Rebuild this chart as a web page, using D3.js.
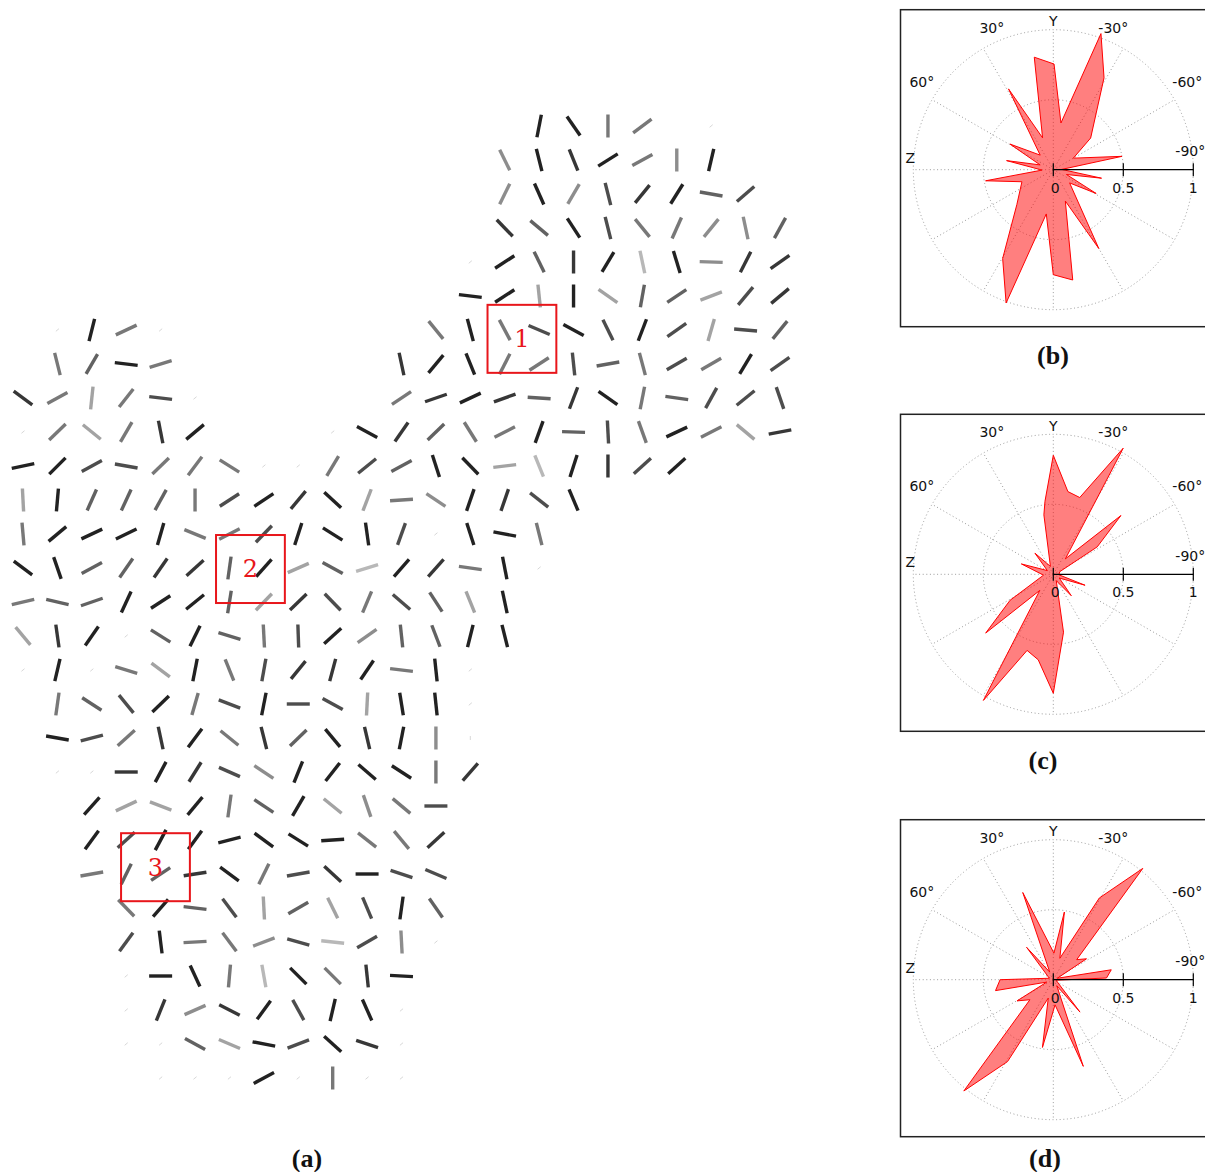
<!DOCTYPE html>
<html>
<head>
<meta charset="utf-8">
<script src="https://cdn.jsdelivr.net/npm/d3@7"></script>
<style>
  body { margin: 0; background: #fff; }
</style>
</head>
<body>
<div id="chart"></div>
<script>
// (a) orientation field: one string per grid row, one char per column.
// '.' = empty cell, '0' = faint stub, '2'..'9' = grey level (2 darkest).
const shadeRows = [
  "...............2266.0..",
  "..............7232672..",
  "..............72743254.",
  "..............352466775",
  ".............0253292733",
  ".............2282855843",
  ".0260.......62642424845",
  ".6526......322664564624",
  "368640.....632353265444",
  "068632...02356625462683",
  "22446660064522892342...",
  "82555642328672342......",
  "6222266422240226.......",
  "2255335285923620.......",
  "655222583464582........",
  "832052564275522........",
  "02068264332620.........",
  ".6542642448220.........",
  ".2463263523270.........",
  ".0032347222263.........",
  "..28826528764..........",
  "..24222222663..........",
  "..65532643244..........",
  "...6254858425..........",
  "...4266749470..........",
  "...022692632...........",
  "...037324220...........",
  "...005824230...........",
  "....00020600..........."
];

// in-plane angle (degrees from horizontal, counter-clockwise) of each non-empty cell, in row order
const angleRows = [
  [79, -55, 90, 37, 40],
  [-64, -76, -68, 32, 29, 90, 77],
  [64, -66, 60, -76, 51, 58, -10, 41],
  [-46, -40, -57, -76, -51, 66, 51, -78, 61],
  [40, 33, -64, 90, 59, -78, -73, -2, 63, 35],
  [-7, 33, -84, 90, -35, 80, 34, 21, 50, 40],
  [40, 76, 25, 40, -51, -75, -62, -23, -28, -64, 69, 35, 74, -5, 51],
  [-76, 60, -7, 17, -78, 50, -68, 63, 33, -84, 10, -75, 30, 30, 59, 35],
  [-36, 29, 84, 52, -7, 40, 34, 19, 25, 20, -4, 69, -35, 79, -8, 61, 39, -71],
  [40, 44, -39, 60, -79, 40, 40, -28, 55, 44, -58, 27, 70, -2, -87, -70, 25, 27, -40, 11],
  [12, 45, 29, -10, 44, 53, -32, 40, 40, 59, 39, 28, -72, -46, 7, -68, 72, 90, 42, 42],
  [-87, 85, 66, 65, 61, 90, 33, 34, 50, -43, 69, 4, -34, 71, 71, -38, -67],
  [-85, 40, 25, 26, 74, -22, 27, 46, 72, -32, -82, 70, 40, -72, -11, -76],
  [-37, -71, 28, 55, 55, 42, 82, 48, 24, -29, 17, 49, 48, -8, -79, 40],
  [13, -13, 19, 65, 33, 39, 81, 46, 44, -46, 67, -41, -57, -68, -78],
  [-50, -82, 55, 40, -32, 64, -17, -87, -88, 42, 35, -84, -69, 76, -76],
  [40, 77, 40, -17, -37, 79, -68, 80, 51, 75, 56, -7, -84, 40],
  [82, -33, -51, 44, 74, -21, 79, 0, -29, 87, -81, -84, 40],
  [-10, 15, 42, -78, 53, -39, -76, 44, -50, -77, 79, 90, 90],
  [40, 40, 0, 62, 58, -24, -34, 68, 52, -41, -33, 90, 49],
  [48, 25, -21, 50, 82, -34, 60, -39, -71, -40, 0],
  [54, 42, 62, 54, 14, -36, -32, 4, -38, -50, 43],
  [10, 64, 34, 9, -36, 64, 10, -43, 0, -18, -23],
  [-46, 49, -7, -53, -87, 30, -64, -67, 82, -55],
  [54, -83, 3, -53, 21, -16, -6, 30, -87, 40],
  [40, 0, -65, 85, -80, -45, -45, -84, -3],
  [40, 68, 24, -27, 54, -61, 77, -66, 40],
  [40, 40, -29, -23, -11, 21, -42, -18, 40],
  [40, 40, 40, 28, 40, 90, 40, 40]
];

// highlighted regions (grid units: left column, top row)
const regionLabels = ["1", "2", "3"];
const regionCols = [13.5, 5.61, 2.85];
const regionRows = [5.26, 12.03, 20.8];

// rose plots: [angle in degrees counter-clockwise from Y, normalised length]
const roseB = [[9.6, 0.815], [-0.4, 0.755], [-9.3, 0.338], [-19.3, 1.03], [-28.9, 0.75], [-49.7, 0.35],
  [-60, 0.165], [-79, 0.5], [-88, 0.06], [-100, 0.35], [-110, 0.1], [-119, 0.35], [-129, 0.15],
  [-150, 0.65], [-159, 0.24], [-170, 0.8], [180, 0.75], [171, 0.32], [160.5, 1.01], [150.3, 0.73],
  [133.7, 0.36], [111, 0.24], [99.3, 0.49], [92, 0.08], [79, 0.34], [70, 0.1], [59.4, 0.36],
  [42, 0.14], [29, 0.66], [18.6, 0.24]];
const roseC = [[0, 0.85], [-10, 0.6], [-19, 0.58], [-29, 1.03], [-38, 0.14], [-49, 0.64], [-58, 0.37],
  [-68, 0.05], [-95, 0.04], [-109, 0.24], [-122, 0.05], [-140, 0.2], [-155, 0.05], [-170, 0.42],
  [-180, 0.85], [170, 0.62], [161, 0.575], [151, 1.03], [140, 0.15], [131, 0.64], [121, 0.36],
  [95, 0.07], [72, 0.24], [58, 0.05], [41, 0.2], [20, 0.06], [9, 0.43], [6.5, 0.525]];
const roseD = [[19.3, 0.66], [-1.4, 0.19], [-9.3, 0.49], [-17, 0.16], [-29.4, 0.67], [-38.8, 1.02],
  [-49.4, 0.22], [-57.8, 0.28], [-70, 0.03], [-80.3, 0.42], [-88.2, 0.38], [-100, 0.02],
  [-140.5, 0.3], [-150, 0.05], [-160.9, 0.655], [-176, 0.18], [170.9, 0.49], [164.7, 0.136],
  [150.8, 0.67], [141.2, 1.02], [130.6, 0.22], [120.3, 0.3], [110, 0.05], [100.7, 0.42],
  [90, 0.38], [70, 0.03], [39.5, 0.3], [25, 0.06]];

const radialTicks = [0, 0.5, 1];
const dirLabels = ["Y", "30\u00b0", "-30\u00b0", "60\u00b0", "-60\u00b0", "Z", "-90\u00b0"];
const captions = ["(a)", "(b)", "(c)", "(d)"];

const width = 1205, height = 1172;
const svg = d3.select("#chart").append("svg")
  .attr("width", width)
  .attr("height", height)
  .style("display", "block");

svg.append("rect").attr("width", width).attr("height", height).attr("fill", "#fff");

// ---------- (a) orientation field ----------
const x = d3.scaleLinear().domain([0, 22]).range([23, 780]);
const y = d3.scaleLinear().domain([0, 28]).range([126, 1078]);
const grey = d3.scaleLinear().domain([2, 9]).range(["#222", "#b8b8b8"]);

const cells = [];
shadeRows.forEach((row, r) => {
  let k = 0;
  [...row].forEach((ch, c) => {
    if (ch === ".") return;
    cells.push({ row: r, col: c, shade: +ch, angle: angleRows[r][k++] });
  });
});

const segLen = 23;
svg.append("g").attr("class", "field")
  .selectAll("line")
  .data(cells)
  .join("line")
  .each(function (d) {
    const half = (d.shade === 0 ? 2 : segLen / 2);
    const a = d.angle * Math.PI / 180;
    const dx = Math.cos(a) * half, dy = -Math.sin(a) * half;
    d3.select(this)
      .attr("x1", x(d.col) - dx).attr("y1", y(d.row) - dy)
      .attr("x2", x(d.col) + dx).attr("y2", y(d.row) + dy);
  })
  .attr("stroke", d => d.shade === 0 ? "#d8d8d8" : grey(d.shade))
  .attr("stroke-width", d => d.shade === 0 ? 1 : 3.4)
  .attr("stroke-linecap", "butt");

// highlighted regions
const regions = svg.append("g").attr("class", "regions")
  .selectAll("g")
  .data(regionLabels.map((l, i) => ({ label: l, col: regionCols[i], row: regionRows[i] })))
  .join("g");

regions.append("rect")
  .attr("x", d => x(d.col))
  .attr("y", d => y(d.row))
  .attr("width", d => x(d.col + 2) - x(d.col))
  .attr("height", d => y(d.row + 2) - y(d.row))
  .attr("fill", "none")
  .attr("stroke", "#e8161b")
  .attr("stroke-width", 2);

regions.append("text")
  .attr("x", d => x(d.col + 1))
  .attr("y", d => y(d.row + 1))
  .attr("dy", "0.35em")
  .attr("text-anchor", "middle")
  .attr("font-family", "'DejaVu Serif', 'Liberation Serif', serif")
  .attr("font-size", 24)
  .attr("fill", "#e8161b")
  .text(d => d.label);

// ---------- rose plots ----------
const roseR = d3.scaleLinear().domain([0, 1]).range([0, 140]);
const toRad = deg => deg * Math.PI / 180;
const rose = d3.lineRadial()
  .angle(d => -toRad(d[0]))
  .radius(d => roseR(d[1]))
  .curve(d3.curveLinearClosed);

// label offsets from the plot centre, px
const dirOffsets = [[0, -148.5], [-61.5, -142], [60, -142], [-131.5, -88], [134, -88], [-143, -12], [137, -18.5]];

function drawRose(cx, cy, pts) {
  svg.append("rect")
    .attr("x", 900.5).attr("y", cy - 160)
    .attr("width", 330).attr("height", 317)
    .attr("fill", "none").attr("stroke", "#222").attr("stroke-width", 1.5);

  const g = svg.append("g").attr("transform", `translate(${cx},${cy})`);

  g.selectAll("circle.ring")
    .data([0.5, 1])
    .join("circle")
    .attr("class", "ring")
    .attr("r", d => roseR(d))
    .attr("fill", "none")
    .attr("stroke", "#9a9a9a")
    .attr("stroke-width", 1)
    .attr("stroke-dasharray", "1 2.6");

  g.selectAll("line.spoke")
    .data(d3.range(0, 360, 30).filter(a => a !== 270))
    .join("line")
    .attr("class", "spoke")
    .attr("x1", 0).attr("y1", 0)
    .attr("x2", a => -roseR(1) * Math.sin(toRad(a)))
    .attr("y2", a => -roseR(1) * Math.cos(toRad(a)))
    .attr("stroke", "#9a9a9a")
    .attr("stroke-width", 1)
    .attr("stroke-dasharray", "1 2.6");

  g.append("path")
    .attr("d", rose(pts))
    .attr("fill", "rgba(255,0,0,0.5)")
    .attr("stroke", "#ff0000")
    .attr("stroke-width", 1)
    .attr("stroke-linejoin", "miter");

  // radial axis towards -90
  g.append("line")
    .attr("x1", 0).attr("y1", 0)
    .attr("x2", roseR(1)).attr("y2", 0)
    .attr("stroke", "#000").attr("stroke-width", 1.2);

  g.selectAll("line.tick")
    .data(radialTicks)
    .join("line")
    .attr("class", "tick")
    .attr("x1", d => roseR(d)).attr("x2", d => roseR(d))
    .attr("y1", -6.5).attr("y2", 6.5)
    .attr("stroke", "#000").attr("stroke-width", 1.2);

  g.selectAll("text.tick")
    .data(radialTicks)
    .join("text")
    .attr("class", "tick")
    .attr("x", d => roseR(d) + (d === 0 ? 2 : 0))
    .attr("y", 18)
    .attr("dy", "0.35em")
    .attr("text-anchor", "middle")
    .attr("font-family", "'DejaVu Sans', sans-serif")
    .attr("font-size", 14)
    .attr("fill", "#111")
    .text(d => d3.format("~g")(d));

  g.selectAll("text.dir")
    .data(dirLabels)
    .join("text")
    .attr("class", "dir")
    .attr("x", (d, i) => dirOffsets[i][0])
    .attr("y", (d, i) => dirOffsets[i][1])
    .attr("dy", "0.35em")
    .attr("text-anchor", "middle")
    .attr("font-family", "'DejaVu Sans', sans-serif")
    .attr("font-size", 14)
    .attr("fill", "#111")
    .text(d => d);
}

drawRose(1053.3, 169.7, roseB);
drawRose(1053.3, 574.3, roseC);
drawRose(1053.3, 979.7, roseD);

// captions
const captionPos = [[307, 1167], [1053, 364], [1043, 769], [1045, 1167]];
svg.selectAll("text.caption")
  .data(captions)
  .join("text")
  .attr("class", "caption")
  .attr("x", (d, i) => captionPos[i][0])
  .attr("y", (d, i) => captionPos[i][1])
  .attr("text-anchor", "middle")
  .attr("font-family", "'Liberation Serif', 'Times New Roman', serif")
  .attr("font-weight", "bold")
  .attr("font-size", 26)
  .attr("fill", "#111")
  .text(d => d);
</script>
</body>
</html>
